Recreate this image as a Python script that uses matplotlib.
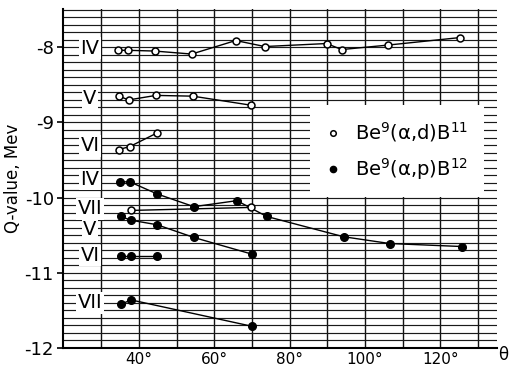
import matplotlib.pyplot as plt
from matplotlib.lines import Line2D
import numpy as np

# Be9(a,d)B11 groups (open circles)
d_iv_theta = [34.4, 37.1, 44.2, 54.0, 65.7, 73.4, 89.8, 93.8, 106.2, 125.3]
d_iv_q = [-8.04, -8.04, -8.05, -8.09, -7.91, -7.99, -7.95, -8.03, -7.97, -7.87]
d_v_theta = [34.7, 37.3, 44.5, 54.3, 69.7]
d_v_q = [-8.65, -8.70, -8.64, -8.65, -8.77]
d_vi_theta = [34.7, 37.6, 44.8]
d_vi_q = [-9.36, -9.32, -9.14]
d_vii_theta = [37.9, 69.7]
d_vii_q = [-10.17, -10.13]

# Be9(a,p)B12 groups (filled circles)
p_iv_theta = [35.0, 37.6, 44.8, 54.6, 66.0, 73.9, 94.3, 106.5, 125.6]
p_iv_q = [-9.79, -9.79, -9.95, -10.12, -10.04, -10.25, -10.52, -10.61, -10.65]
p_v_theta = [35.2, 37.9, 44.8, 54.6, 69.9]
p_v_q = [-10.25, -10.30, -10.36, -10.53, -10.75]
p_vi_theta = [35.2, 37.9, 44.8]
p_vi_q = [-10.77, -10.77, -10.77]
p_vii_theta = [35.2, 37.9, 69.9]
p_vii_q = [-11.42, -11.36, -11.71]

# group labels on the left
group_names = ["IV", "V", "VI", "IV", "VII", "V", "VI", "VII"]
group_q = [-8.01, -8.68, -9.31, -9.76, -10.15, -10.42, -10.77, -11.40]

yticks = [-12, -11, -10, -9, -8]
ytick_labels = ["-12", "-11", "-10", "-9", "-8"]
xticks = [40, 60, 80, 100, 120]
xtick_labels = ["40°", "60°", "80°", "100°", "120°"]

fig = plt.figure(figsize=(5.17, 3.73), dpi=100)
ax = fig.add_axes([0.1228, 0.067, 0.8385, 0.909])

ax.set_xlim(20, 135)
ax.set_ylim(-12.0, -7.49)

# graph paper
ax.set_yticks(yticks)
ax.set_yticklabels(ytick_labels, fontsize=13)
ax.set_yticks(np.arange(-12.0, -7.45, 0.1), minor=True)
ax.set_xticks(xticks)
ax.set_xticklabels(xtick_labels, fontsize=11)
ax.set_xticks(np.arange(30, 131, 10), minor=True)
ax.grid(which="both", axis="y", color="#1a1a1a", lw=0.85)
ax.grid(which="both", axis="x", color="#111111", lw=1.0)
ax.set_axisbelow(True)
ax.tick_params(axis="y", which="major", length=4, width=1.2, pad=3)
ax.tick_params(axis="y", which="minor", length=0)
ax.tick_params(axis="x", which="both", length=0, pad=3)

for s in ["top", "right"]:
    ax.spines[s].set_visible(False)
ax.spines["left"].set_linewidth(1.5)
ax.spines["bottom"].set_linewidth(1.5)

ax.set_ylabel("Q-value, Mev", fontsize=12, labelpad=2)
ax.text(1.014, -0.022, "θ", transform=ax.transAxes, fontsize=12,
        ha="center", va="center")

for th, q in [(d_iv_theta, d_iv_q), (d_v_theta, d_v_q),
              (d_vi_theta, d_vi_q), (d_vii_theta, d_vii_q)]:
    ax.plot(th, q, "-", color="black", lw=1.0, marker="o", ms=5,
            mfc="white", mec="black", mew=1.1, zorder=4)

for th, q in [(p_iv_theta, p_iv_q), (p_v_theta, p_v_q),
              (p_vi_theta, p_vi_q), (p_vii_theta, p_vii_q)]:
    ax.plot(th, q, "-", color="black", lw=1.0, marker="o", ms=5.5,
            mfc="black", mec="black", zorder=3)

for name, q in zip(group_names, group_q):
    ax.text(27.0, q, name, fontsize=14, ha="center", va="center",
            bbox=dict(facecolor="white", edgecolor="none", pad=1.0), zorder=5)

handles = [
    Line2D([], [], ls="none", marker="o", ms=4, mfc="white", mec="black", mew=1.1),
    Line2D([], [], ls="none", marker="o", ms=4.5, mfc="black", mec="black"),
]
labels = ["Be$^9$(α,d)B$^{11}$", "Be$^9$(α,p)B$^{12}$"]
leg = ax.legend(handles, labels, loc="upper left", bbox_to_anchor=(0.569, 0.717),
                fontsize=14, frameon=True, fancybox=False, framealpha=1,
                facecolor="white", edgecolor="none", handlelength=0.8,
                handletextpad=0.7, borderpad=0.8, labelspacing=0.6,
                borderaxespad=0)
leg.set_zorder(6)

fig.savefig("out.png", dpi=100)
